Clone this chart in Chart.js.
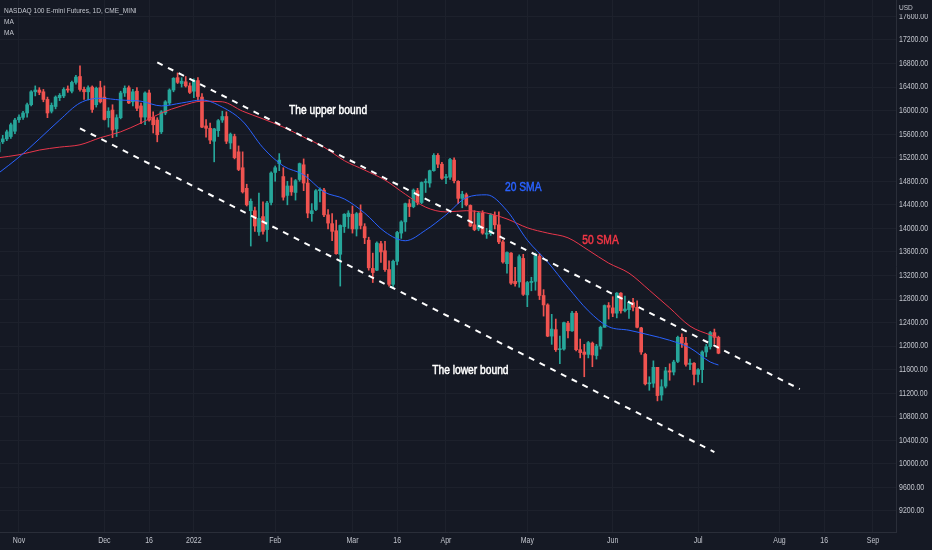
<!DOCTYPE html>
<html>
<head>
<meta charset="utf-8">
<title>NASDAQ 100 E-mini Futures, 1D</title>
<script src="https://cdn.jsdelivr.net/npm/chart.js@4.4.0/dist/chart.umd.min.js"></script>
<style>
  html, body { margin: 0; padding: 0; background: #151924; }
  #wrap { width: 932px; height: 550px; }
</style>
</head>
<body>
<div id="wrap"><canvas id="chart" width="932" height="550"></canvas></div>
<script>
// session calendar (weekdays minus exchange holidays)
const firstSession = '2021-10-25';
const lastSession = '2022-09-02';
const holidays = ['2021-11-25', '2021-12-24', '2022-01-17', '2022-02-21',
  '2022-04-15', '2022-05-30', '2022-06-20', '2022-07-04'];

// daily candles, one value per session starting at firstSession
const opens = [
  15300, 15470, 15520, 15560, 15650,
  15845, 15885, 15960, 16100, 16320,
  16350, 16320, 16190, 15990, 16070,
  16220, 16250, 16360, 16330, 16480,
  16580, 16360, 16320, 16400, 16100,
  16390, 16230, 15880, 16010, 15690,
  15880, 16300, 16390, 16150, 16330,
  16080, 15890, 16300, 15890, 15840,
  15640, 15960, 16130, 16350, 16560,
  16460, 16490, 16420, 16330, 16510,
  16230, 15740, 15700, 15480, 15660,
  15840, 15900, 15450, 15560, 15300,
  15030, 14680, 14300, 14300, 13940,
  14200, 13980, 14440, 14950, 15100,
  14880, 14560, 14720, 14610, 14830,
  15080, 14770, 14250, 14320, 14640,
  14650, 14230, 14080, 13960, 13560,
  14030, 14200, 14240, 13990, 14260,
  14030, 13800, 13320, 13290, 13740,
  13620, 13300, 13050, 13440, 13920,
  14110, 14420, 14370, 14640, 14440,
  14780, 14770, 14980, 15240, 15090,
  14860, 14870, 15160, 14800, 14510,
  14570, 14390, 14060, 13990, 14260,
  13900, 13910, 14220, 14060, 13770,
  13400, 13580, 13100, 13090, 13490,
  12870, 13080, 13100, 13530, 12860,
  12700, 12170, 12280, 11940, 11950,
  12390, 12260, 12560, 11940, 11900,
  11860, 12050, 11840, 12000, 12320,
  12690, 12650, 12560, 12900, 12600,
  12620, 12740, 12660, 12310, 11860,
  11360, 11370, 11640, 11170, 11320,
  11580, 11560, 11740, 12150, 12050,
  11690, 11710, 11520, 11600, 11900,
  11990, 12230, 12150
];
const highs = [
  15480, 15580, 15670, 15790, 15870,
  15930, 15990, 16130, 16340, 16420,
  16390, 16360, 16230, 16130, 16250,
  16290, 16390, 16420, 16500, 16600,
  16760, 16400, 16420, 16420, 16400,
  16500, 16420, 16050, 16100, 15930,
  16330, 16420, 16420, 16360, 16390,
  16130, 16320, 16350, 15980, 15880,
  16000, 16170, 16370, 16560, 16640,
  16560, 16580, 16470, 16540, 16560,
  16290, 15850, 15790, 15700, 15850,
  15990, 15980, 15620, 15600, 15400,
  15300, 14750, 14500, 14360, 14600,
  14450, 14460, 14960, 15060, 15270,
  15030, 14800, 14860, 14830, 15110,
  15180, 14920, 14420, 14660, 14690,
  14680, 14320, 14250, 14140, 14060,
  14250, 14300, 14380, 14270, 14400,
  14080, 13850, 13580, 13770, 13780,
  13780, 13450, 13460, 13950, 14130,
  14430, 14490, 14670, 14680, 14790,
  14840, 14990, 15270, 15270, 15120,
  14920, 15190, 15200, 14810, 14630,
  14600, 14400, 14300, 14280, 14300,
  14000, 14250, 14280, 14280, 13800,
  13600, 13590, 13340, 13550, 13560,
  13100, 13170, 13580, 13570, 12960,
  12720, 12540, 12460, 12170, 12410,
  12420, 12590, 12590, 12120, 12030,
  12080, 12070, 12030, 12340, 12700,
  12740, 12840, 12910, 12910, 12850,
  12770, 12810, 12770, 12320, 11880,
  11480, 11750, 11640, 11430, 11640,
  11700, 11760, 12170, 12210, 12150,
  11780, 11720, 11620, 11920, 12030,
  12250, 12290, 12170
];
const lows = [
  15270, 15440, 15490, 15530, 15610,
  15800, 15850, 15890, 16080, 16250,
  16270, 16150, 15880, 15960, 16030,
  16170, 16220, 16310, 16300, 16450,
  16330, 16190, 16180, 15970, 16060,
  16130, 15840, 15720, 15540, 15560,
  15860, 16240, 16120, 16080, 16000,
  15780, 15760, 15820, 15620, 15470,
  15610, 15930, 16100, 16320, 16460,
  16400, 16400, 16290, 16220, 16180,
  15710, 15550, 15440, 15130, 15560,
  15800, 15440, 15350, 15180, 14980,
  14600, 14380, 13700, 13950, 13880,
  13900, 13780, 14400, 14800, 14980,
  14480, 14400, 14560, 14480, 14800,
  14640, 14180, 14120, 14300, 14450,
  14200, 13990, 13790, 13560, 13020,
  13930, 14000, 13920, 13870, 13990,
  13740, 13290, 13080, 13280, 13420,
  13270, 13020, 13000, 13380, 13830,
  13950, 14200, 14350, 14400, 14420,
  14610, 14700, 14970, 15030, 14830,
  14760, 14830, 14770, 14420, 14350,
  14380, 14030, 13960, 13960, 13900,
  13830, 13880, 13990, 13740, 13410,
  13240, 13050, 13020, 13000, 12860,
  12670, 12940, 12950, 12790, 12510,
  12160, 12030, 11910, 11700, 11930,
  12140, 12250, 11920, 11800, 11480,
  11800, 11650, 11780, 11950, 12320,
  12460, 12500, 12480, 12560, 12580,
  12470, 12600, 12310, 11860, 11340,
  11250, 11300, 11070, 11080, 11290,
  11420, 11510, 11720, 11980, 11660,
  11600, 11340, 11390, 11380, 11820,
  11950, 12040, 11870
];
const closes = [
  15460, 15520, 15640, 15760, 15840,
  15890, 15960, 16100, 16320, 16350,
  16310, 16190, 15960, 16090, 16230,
  16260, 16360, 16350, 16480, 16570,
  16360, 16320, 16390, 16020, 16380,
  16150, 15850, 15990, 15670, 15880,
  16300, 16380, 16130, 16320, 16040,
  15890, 16300, 15840, 15760, 15590,
  15980, 16150, 16350, 16550, 16480,
  16500, 16420, 16310, 16510, 16240,
  15720, 15700, 15500, 15690, 15830,
  15900, 15480, 15600, 15200, 15000,
  14620, 14400, 14460, 14040, 14170,
  13950, 14430, 14940, 15030, 15160,
  14530, 14720, 14620, 14810, 15100,
  14770, 14260, 14300, 14640, 14660,
  14230, 14090, 13950, 13570, 14050,
  14240, 14260, 13990, 14250, 14050,
  13840, 13330, 13250, 13750, 13600,
  13300, 13050, 13440, 13930, 14110,
  14420, 14370, 14650, 14440, 14780,
  14780, 14980, 15240, 15090, 14850,
  14870, 15170, 14810, 14510, 14580,
  14400, 14040, 13980, 14260, 13920,
  13920, 14230, 14060, 13770, 13430,
  13590, 13070, 13060, 13520, 12880,
  13080, 13100, 13540, 12860, 12700,
  12170, 12290, 11940, 11950, 12400,
  12260, 12560, 11940, 11890, 11860,
  12060, 11850, 12000, 12320, 12690,
  12660, 12560, 12900, 12600, 12630,
  12740, 12660, 12320, 11900, 11360,
  11360, 11640, 11160, 11310, 11580,
  11560, 11730, 12150, 12050, 11690,
  11710, 11520, 11600, 11900, 11990,
  12230, 12150, 11880
];

// moving averages, read every fifth session
const sma20 = [
  ['2021-10-25', 14940], ['2021-11-01', 15210], ['2021-11-08', 15520], ['2021-11-15', 15840],
  ['2021-11-22', 16130], ['2021-11-30', 16210], ['2021-12-07', 16180], ['2021-12-14', 16160],
  ['2021-12-21', 16080], ['2021-12-29', 16130], ['2022-01-05', 16180], ['2022-01-12', 16060],
  ['2022-01-20', 15820], ['2022-01-27', 15370], ['2022-02-03', 15060], ['2022-02-10', 14910],
  ['2022-02-17', 14620], ['2022-02-25', 14500], ['2022-03-04', 14260], ['2022-03-11', 13940],
  ['2022-03-18', 13790], ['2022-03-25', 13970], ['2022-04-01', 14230], ['2022-04-08', 14520],
  ['2022-04-18', 14570], ['2022-04-25', 14300], ['2022-05-02', 13800], ['2022-05-09', 13430],
  ['2022-05-16', 13000], ['2022-05-23', 12600], ['2022-05-31', 12330], ['2022-06-07', 12270],
  ['2022-06-14', 12190], ['2022-06-22', 12100], ['2022-06-29', 11970], ['2022-07-07', 11730],
  ['2022-07-11', 11680]
];
const sma50 = [
  ['2021-10-25', 15200], ['2021-11-01', 15250], ['2021-11-08', 15330], ['2021-11-15', 15380],
  ['2021-11-22', 15420], ['2021-11-30', 15540], ['2021-12-07', 15640], ['2021-12-14', 15790],
  ['2021-12-21', 15960], ['2021-12-29', 16080], ['2022-01-05', 16160], ['2022-01-12', 16150],
  ['2022-01-20', 15990], ['2022-01-27', 15860], ['2022-02-03', 15720], ['2022-02-10', 15550],
  ['2022-02-17', 15380], ['2022-02-25', 15150], ['2022-03-04', 14990], ['2022-03-11', 14820],
  ['2022-03-18', 14580], ['2022-03-25', 14360], ['2022-04-01', 14280], ['2022-04-08', 14300],
  ['2022-04-18', 14260], ['2022-04-25', 14160], ['2022-05-02', 14010], ['2022-05-09', 13920],
  ['2022-05-16', 13840], ['2022-05-23', 13630], ['2022-05-31', 13410], ['2022-06-07', 13240],
  ['2022-06-14', 12950], ['2022-06-22', 12650], ['2022-06-29', 12340], ['2022-07-07', 12190],
  ['2022-07-11', 12140]
];

// channel lines drawn on the chart
const upperBound = [['2021-12-20', 16820], ['2022-08-08', 11270]];
const lowerBound = [['2021-11-22', 15700], ['2022-07-08', 10200]];

// axis labels
const xTicks = [
  ['2021-11-01', 'Nov'], ['2021-12-01', 'Dec'], ['2021-12-16', '16'], ['2022-01-03', '2022'],
  ['2022-02-01', 'Feb'], ['2022-03-01', 'Mar'], ['2022-03-16', '16'], ['2022-04-01', 'Apr'],
  ['2022-05-02', 'May'], ['2022-06-01', 'Jun'], ['2022-07-01', 'Jul'], ['2022-08-01', 'Aug'],
  ['2022-08-16', '16'], ['2022-09-01', 'Sep']
];
const yTicks = [9200, 9600, 10000, 10400, 10800, 11200, 11600, 12000, 12400, 12800,
  13200, 13600, 14000, 14400, 14800, 15200, 15600, 16000, 16400, 16800, 17200, 17600];

// text notes placed at [date, price]
const notes = [
  ['The upper bound', '2022-02-18', 16000, '#FFFFFF'],
  ['The lower bound', '2022-04-11', 11580, '#FFFFFF'],
  ['20 SMA', '2022-04-29', 14690, '#2962FF'],
  ['50 SMA', '2022-05-26', 13790, '#F23645']
];
const legendLines = ['NASDAQ 100 E-mini Futures, 1D, CME_MINI', 'MA', 'MA'];

const sessions = [];
for (let d = new Date(firstSession + 'T00:00:00Z'); d <= new Date(lastSession + 'T00:00:00Z'); d.setUTCDate(d.getUTCDate() + 1)) {
  const key = d.toISOString().slice(0, 10);
  const wd = d.getUTCDay();
  if (wd === 0 || wd === 6 || holidays.includes(key)) continue;
  sessions.push(key);
}
const pos = key => sessions.indexOf(key);
const toPoints = list => list.map(([d, v]) => ({ x: pos(d), y: v }));

const BG = '#151924';
const LABEL = '#C3C6CE';
const FONT = "'Liberation Sans', Arial, sans-serif";
const SQUEEZE = 0.82; // narrow face look
const candleColor = closes.map((c, i) => c >= opens[i] ? '#26A69A' : '#EF5350');

function narrowText(ctx, text, x, y, align, heavy) {
  ctx.save();
  ctx.translate(x, y);
  ctx.scale(SQUEEZE, 1);
  ctx.textAlign = align;
  ctx.textBaseline = 'middle';
  if (heavy) {
    ctx.strokeStyle = ctx.fillStyle;
    ctx.lineWidth = 0.5;
    ctx.strokeText(text, 0, 0);
  }
  ctx.fillText(text, 0, 0);
  ctx.restore();
}

const decor = {
  id: 'decor',
  beforeDraw(chart) {
    const ctx = chart.ctx;
    ctx.save();
    ctx.fillStyle = BG;
    ctx.fillRect(0, 0, chart.width, chart.height);
    ctx.restore();
  },
  afterDatasetsDraw(chart) {
    const { ctx, scales: { x, y } } = chart;
    ctx.save();
    ctx.font = '12.5px ' + FONT;
    notes.forEach(([text, d, v, color]) => {
      ctx.fillStyle = color;
      narrowText(ctx, text, x.getPixelForValue(pos(d)), y.getPixelForValue(v), 'center', true);
    });
    ctx.restore();
  },
  afterDraw(chart) {
    const { ctx, chartArea: area, scales: { x, y } } = chart;
    ctx.save();
    ctx.fillStyle = LABEL;
    ctx.font = '8.5px ' + FONT;
    xTicks.forEach(([d, t]) => narrowText(ctx, t, x.getPixelForValue(pos(d)), area.bottom + 9, 'center'));
    yTicks.forEach(v => narrowText(ctx, v.toFixed(2), area.right + 3, y.getPixelForValue(v), 'left'));

    // currency tag at the top of the price axis
    ctx.fillStyle = BG;
    ctx.fillRect(area.right + 1, 0, chart.width - area.right - 1, 14);
    ctx.fillStyle = LABEL;
    ctx.font = '8px ' + FONT;
    narrowText(ctx, 'USD', area.right + 3, 8, 'left');
    legendLines.forEach((t, i) => narrowText(ctx, t, 4, 11 + i * 11, 'left'));
    ctx.restore();
  }
};

new Chart(document.getElementById('chart'), {
  type: 'bar',
  data: {
    datasets: [
      {
        type: 'line', data: toPoints(upperBound), borderColor: '#FFFFFF', borderWidth: 2,
        borderDash: [6, 6], pointRadius: 0, order: 1
      },
      {
        type: 'line', data: toPoints(lowerBound), borderColor: '#FFFFFF', borderWidth: 2,
        borderDash: [6, 6], pointRadius: 0, order: 1
      },
      {
        type: 'line', data: toPoints(sma20), borderColor: '#2962FF', borderWidth: 1,
        pointRadius: 0, cubicInterpolationMode: 'monotone', order: 2
      },
      {
        type: 'line', data: toPoints(sma50), borderColor: '#E8364B', borderWidth: 1,
        pointRadius: 0, cubicInterpolationMode: 'monotone', order: 3
      },
      {
        data: opens.map((o, i) => ({ x: i, y: [o, closes[i]] })),
        backgroundColor: candleColor, barThickness: 3, minBarLength: 1,
        grouped: false, order: 4
      },
      {
        data: highs.map((h, i) => ({ x: i, y: [lows[i], h] })),
        backgroundColor: candleColor, barThickness: 1,
        grouped: false, order: 5
      }
    ]
  },
  options: {
    responsive: false,
    animation: false,
    devicePixelRatio: 1,
    layout: { padding: 0 },
    plugins: { legend: { display: false }, tooltip: { enabled: false } },
    scales: {
      x: {
        type: 'linear',
        min: 0.33,
        max: 220.66,
        offset: false,
        grid: { color: '#1D212C', offset: false, drawTicks: false },
        border: { color: '#2A2E39' },
        ticks: { display: false },
        afterBuildTicks: s => { s.ticks = xTicks.map(([d]) => ({ value: pos(d) })); },
        afterFit: s => { s.height = 18; }
      },
      y: {
        position: 'right',
        min: 8843,
        max: 17879,
        beginAtZero: false,
        grid: { color: '#1D212C', drawTicks: false },
        border: { color: '#2A2E39' },
        ticks: { display: false },
        afterBuildTicks: s => { s.ticks = yTicks.map(v => ({ value: v })); },
        afterFit: s => { s.width = 36; }
      }
    }
  },
  plugins: [decor]
});
</script>
</body>
</html>
